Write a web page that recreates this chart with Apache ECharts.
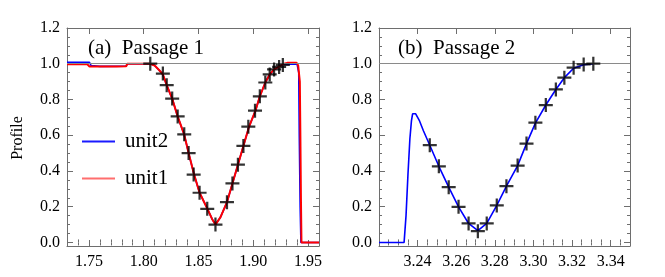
<!DOCTYPE html>
<html>
<head>
<meta charset="utf-8">
<script src="https://cdn.jsdelivr.net/npm/echarts@6/dist/echarts.min.js"></script>
<style>
html,body{margin:0;padding:0;background:#fff;}
#chart{width:665px;height:277px;}
</style>
</head>
<body>
<div id="chart"></div>
<script>
// ---- Data ----
const seriesNames = ['unit2', 'unit1'];
const panelTitles = ['(a)  Passage 1', '(b)  Passage 2'];
const yAxisTitle = 'Profile';
const refLevel = 1.0;

// Panel (a): unit1 (red)
const p1Unit1 = [
  [1.730,0.997],[1.7485,0.997],[1.7505,0.985],[1.7522,0.975],[1.7535,0.985],[1.760,0.985],[1.775,0.985],
  [1.784,0.986],[1.7850,1.0],[1.806,1.0],[1.810,0.99],[1.814,0.965],[1.8175,0.94],[1.821,0.88],
  [1.826,0.805],[1.831,0.705],[1.837,0.603],[1.841,0.50],[1.846,0.38],[1.851,0.278],[1.858,0.19],
  [1.8625,0.13],[1.8655,0.10],[1.870,0.14],[1.876,0.225],[1.881,0.33],[1.886,0.435],[1.891,0.54],
  [1.896,0.645],[1.902,0.737],[1.906,0.818],[1.911,0.895],[1.915,0.94],[1.919,0.968],[1.924,0.985],
  [1.928,1.0],[1.931,1.005],[1.9395,1.005],[1.941,0.99],[1.9425,0.9],[1.943,0.6],[1.9435,0.25],
  [1.944,0.0],[1.960,0.0]
];
// Panel (a): unit2 (blue)
const p1Unit2 = [
  [1.730,1.008],[1.7505,1.008],[1.752,0.99],[1.760,0.985],[1.784,0.986],[1.785,1.0],[1.806,1.0],
  [1.810,0.99],[1.814,0.965],[1.8175,0.94],[1.821,0.88],[1.826,0.805],[1.831,0.705],[1.837,0.603],
  [1.841,0.50],[1.846,0.38],[1.851,0.278],[1.858,0.19],[1.8625,0.13],[1.8655,0.10],[1.870,0.14],
  [1.876,0.225],[1.881,0.33],[1.886,0.435],[1.891,0.54],[1.896,0.645],[1.902,0.737],[1.906,0.818],
  [1.911,0.895],[1.915,0.94],[1.919,0.968],[1.924,0.985],[1.928,0.998],[1.940,0.998],[1.9415,0.95],
  [1.942,0.6],[1.9428,0.2],[1.9435,0.0],[1.960,0.0]
];
// Panel (a): markers
const p1Marks = [
  [1.806,1.0],[1.8175,0.945],[1.821,0.88],[1.826,0.805],[1.831,0.705],[1.837,0.605],[1.841,0.50],
  [1.8456,0.38],[1.851,0.278],[1.858,0.188],[1.8655,0.10],[1.876,0.225],[1.881,0.33],[1.886,0.435],
  [1.891,0.54],[1.8955,0.648],[1.9016,0.737],[1.906,0.818],[1.911,0.895],[1.915,0.94],[1.919,0.968],
  [1.9236,0.982],[1.927,0.993]
];
// Panel (b): unit2 (blue)
const p2Unit2 = [
  [3.220,0.0],[3.233,0.0],[3.2340,0.15],[3.2350,0.38],[3.2360,0.58],[3.2368,0.68],[3.2374,0.72],
  [3.2380,0.73],[3.2390,0.72],[3.2410,0.68],[3.2430,0.625],[3.2463,0.544],[3.251,0.426],[3.2561,0.309],
  [3.2612,0.199],[3.2664,0.106],[3.2712,0.066],[3.2758,0.106],[3.281,0.207],[3.286,0.315],
  [3.2918,0.430],[3.2964,0.553],[3.301,0.668],[3.3064,0.769],[3.3116,0.856],[3.316,0.922],
  [3.3208,0.975],[3.326,0.995],[3.331,1.0]
];
// Panel (b): markers
const p2Marks = [
  [3.2463,0.544],[3.251,0.426],[3.2561,0.309],[3.2612,0.199],[3.2664,0.106],[3.2712,0.063],
  [3.2758,0.106],[3.281,0.207],[3.286,0.315],[3.2918,0.430],[3.2964,0.553],[3.301,0.670],
  [3.3064,0.769],[3.3116,0.856],[3.316,0.922],[3.3208,0.978],[3.326,0.996],[3.331,1.0]
];

// Axis ranges and tick values
const p1XRange = [1.73, 1.96];
const p2XRange = [3.22, 3.35];
const yRange = [-0.02, 1.2];
const p1XMajor = [1.75, 1.80, 1.85, 1.90, 1.95];
const p1XMinor = [1.73,1.74,1.76,1.77,1.78,1.79,1.81,1.82,1.83,1.84,1.86,1.87,1.88,1.89,1.91,1.92,1.93,1.94,1.96];
const p2XMajor = [3.24, 3.26, 3.28, 3.30, 3.32, 3.34];
const p2XMinor = [3.225,3.23,3.235,3.245,3.25,3.255,3.265,3.27,3.275,3.285,3.29,3.295,3.305,3.31,3.315,3.325,3.33,3.335,3.345];
const yMajor = [0, 0.2, 0.4, 0.6, 0.8, 1.0, 1.2];
const yMinor = [0.05,0.1,0.15,0.25,0.3,0.35,0.45,0.5,0.55,0.65,0.7,0.75,0.85,0.9,0.95,1.05,1.1,1.15];

// ---- Styling helpers ----
const FONT = 'Liberation Serif';
const axisColor = '#6e6e6e';
const grids = [
  {left: 67, top: 28, width: 252, height: 218},
  {left: 379, top: 28, width: 251, height: 218}
];

function makeAxes(dim, gridIndex, range, majors, minors, digits, labelMargin) {
  const posA = dim === 'x' ? 'bottom' : 'left';
  const posB = dim === 'x' ? 'top' : 'right';
  const base = {type: 'value', gridIndex, min: range[0], max: range[1], splitLine: {show: false}, scale: true};
  const line = {show: true, onZero: false, lineStyle: {color: axisColor, width: 1}};
  const major = {show: true, inside: true, length: 6, customValues: majors, lineStyle: {color: axisColor, width: 1}};
  const minor = {show: true, inside: true, length: 3, customValues: minors, lineStyle: {color: axisColor, width: 1}};
  const label = {show: true, customValues: majors, formatter: v => Number(v).toFixed(digits),
    margin: labelMargin, color: '#000', fontFamily: FONT, fontSize: 16};
  return [
    Object.assign({}, base, {position: posA, axisLine: line, axisTick: major, axisLabel: label}),
    Object.assign({}, base, {position: posA, axisLine: {show: false}, axisTick: minor, axisLabel: {show: false}}),
    Object.assign({}, base, {position: posB, axisLine: line, axisTick: major, axisLabel: {show: false}}),
    Object.assign({}, base, {position: posB, axisLine: {show: false}, axisTick: minor, axisLabel: {show: false}})
  ];
}

const xAxes = [].concat(
  makeAxes('x', 0, p1XRange, p1XMajor, p1XMinor, 2, 8),
  makeAxes('x', 1, p2XRange, p2XMajor, p2XMinor, 2, 8)
);
const yAxes = [].concat(
  makeAxes('y', 0, yRange, yMajor, yMinor, 1, 7),
  makeAxes('y', 1, yRange, yMajor, yMinor, 1, 7)
);

const plusPath = 'path://M4.2,0 H5.8 V4.2 H10 V5.8 H5.8 V10 H4.2 V5.8 H0 V4.2 H4.2 Z';

const refLine = {
  silent: true, symbol: 'none', label: {show: false},
  lineStyle: {color: '#8a8a8a', width: 1, type: 'solid'},
  data: [{yAxis: refLevel}]
};

const series = [
  {name: seriesNames[0], type: 'line', xAxisIndex: 0, yAxisIndex: 0, data: p1Unit2, symbol: 'none',
   lineStyle: {color: '#0000ff', width: 1.6}, itemStyle: {color: '#0000ff'}, z: 2, markLine: refLine},
  {name: seriesNames[1], type: 'line', xAxisIndex: 0, yAxisIndex: 0, data: p1Unit1, symbol: 'none',
   lineStyle: {color: '#ff0000', width: 2}, itemStyle: {color: '#ff0000'}, z: 3},
  {name: 'marks-a', type: 'scatter', xAxisIndex: 0, yAxisIndex: 0, data: p1Marks, symbol: plusPath,
   symbolSize: 14, itemStyle: {color: '#000'}, z: 5, silent: true},
  {name: seriesNames[0], type: 'line', xAxisIndex: 4, yAxisIndex: 4, data: p2Unit2, symbol: 'none',
   lineStyle: {color: '#0000ff', width: 1.6}, itemStyle: {color: '#0000ff'}, z: 2, markLine: refLine},
  {name: 'marks-b', type: 'scatter', xAxisIndex: 4, yAxisIndex: 4, data: p2Marks, symbol: plusPath,
   symbolSize: 14, itemStyle: {color: '#000'}, z: 5, silent: true}
];

const chart = echarts.init(document.getElementById('chart'), null, {renderer: 'canvas'});
chart.setOption({
  animation: false,
  backgroundColor: '#fff',
  grid: grids,
  xAxis: xAxes,
  yAxis: yAxes,
  legend: {
    data: [
      {name: seriesNames[0], icon: 'rect', itemStyle: {color: '#1a1aff'}},
      {name: seriesNames[1], icon: 'rect', itemStyle: {color: '#ff6e6e'}}
    ],
    orient: 'vertical', left: 77, top: 126,
    itemWidth: 33, itemHeight: 2, itemGap: 16,
    textStyle: {fontFamily: FONT, fontSize: 21, lineHeight: 21, color: '#000', padding: [0, 0, 0, 5]}
  },
  graphic: [
    {type: 'text', left: 88, top: 38, style: {text: panelTitles[0], fontFamily: FONT, fontSize: 21, fill: '#000'}},
    {type: 'text', left: 398, top: 38, style: {text: panelTitles[1], fontFamily: FONT, fontSize: 21, fill: '#000'}},
    {type: 'text', x: 18, y: 138, rotation: Math.PI / 2,
     style: {text: yAxisTitle, fontFamily: FONT, fontSize: 16, fill: '#000', align: 'center', verticalAlign: 'middle'}}
  ],
  series
});
</script>
</body>
</html>
